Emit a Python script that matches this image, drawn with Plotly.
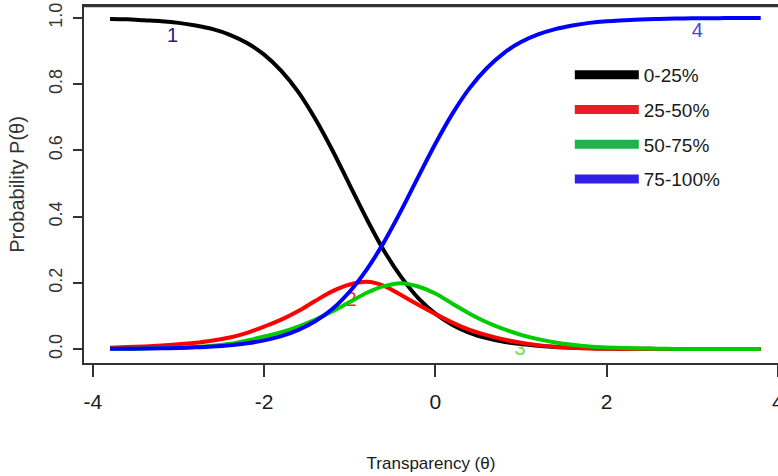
import plotly.graph_objects as go

# ---- data ----
theta = [-3.8, -3.6, -3.4, -3.2, -3.0, -2.8, -2.6, -2.4, -2.2, -2.0,
         -1.8, -1.6, -1.4, -1.2, -1.0, -0.8, -0.6, -0.4, -0.2, 0.0,
         0.2, 0.4, 0.6, 0.8, 1.0, 1.2, 1.4, 1.6, 1.8, 2.0,
         2.2, 2.4, 2.6, 2.8, 3.0, 3.2, 3.4, 3.6, 3.8]

p_0_25 = [0.997, 0.996, 0.993, 0.990, 0.985, 0.977, 0.966, 0.949, 0.924, 0.889,
          0.840, 0.776, 0.694, 0.599, 0.495, 0.392, 0.297, 0.218, 0.154, 0.107,
          0.073, 0.049, 0.033, 0.022, 0.015, 0.010, 0.006, 0.004, 0.003, 0.002,
          0.001, 0.001, 0.0005, 0.0003, 0.0002, 0.0001, 0.0001, 0.0, 0.0]

p_25_50 = [0.004, 0.006, 0.008, 0.011, 0.015, 0.019, 0.026, 0.035, 0.049, 0.068,
           0.089, 0.115, 0.146, 0.175, 0.195, 0.203, 0.191, 0.163, 0.134, 0.106,
           0.080, 0.058, 0.042, 0.029, 0.019, 0.012, 0.007, 0.004, 0.002, 0.001,
           0.0005, 0.0003, 0.0002, 0.0001, 0.0, 0.0, 0.0, 0.0, 0.0]

p_50_75 = [0.001, 0.001, 0.002, 0.003, 0.004, 0.006, 0.010, 0.016, 0.026, 0.038,
           0.051, 0.068, 0.089, 0.114, 0.142, 0.170, 0.190, 0.199, 0.189, 0.168,
           0.137, 0.107, 0.081, 0.060, 0.043, 0.030, 0.020, 0.013, 0.008, 0.005,
           0.003, 0.002, 0.001, 0.0005, 0.0003, 0.0002, 0.0001, 0.0, 0.0]

p_75_100 = [0.0007, 0.001, 0.0015, 0.0023, 0.0035, 0.0052, 0.0078, 0.0118, 0.0176, 0.0263,
            0.039, 0.058, 0.085, 0.122, 0.174, 0.241, 0.323, 0.418, 0.520, 0.620,
            0.711, 0.788, 0.848, 0.894, 0.927, 0.950, 0.966, 0.977, 0.985, 0.990,
            0.993, 0.9955, 0.997, 0.998, 0.9987, 0.9991, 0.9994, 0.9996, 0.9997]

series_names = ["0-25%", "25-50%", "50-75%", "75-100%"]
curve_labels = ["1", "2", "3", "4"]
label_theta = [-3.07, -0.985, 0.99, 3.06]
label_p = [0.943, 0.146, -0.003, 0.956]

x_ticks = [-4, -2, 0, 2, 4]
y_ticks = [0.0, 0.2, 0.4, 0.6, 0.8, 1.0]
y_tick_text = ["0.0", "0.2", "0.4", "0.6", "0.8", "1.0"]

# ---- styling ----
curve_colors = ["#000000", "#ff0000", "#00cc00", "#0000ff"]
legend_colors = ["#000000", "#ed1c24", "#22b14c", "#3020e8"]
label_colors = ["#22227a", "#ff2222", "#77dd44", "#4444dd"]
NARROW = "Liberation Sans Narrow, Arial Narrow, Liberation Sans, Arial, sans-serif"
ARIAL = "Liberation Sans, Arial, sans-serif"
FRAME = "#333333"

fig = go.Figure()

# curve labels drawn first so the curves pass over them
for i in range(4):
    fig.add_trace(go.Scatter(
        x=[label_theta[i]], y=[label_p[i]], mode="text", text=[curve_labels[i]],
        textfont=dict(family=NARROW, size=20, color=label_colors[i]),
        showlegend=False, hoverinfo="skip"))

series = [p_0_25, p_25_50, p_50_75, p_75_100]
for i in range(4):
    fig.add_trace(go.Scatter(
        x=theta, y=series[i], mode="lines", line=dict(color=curve_colors[i], width=4, shape="spline"),
        showlegend=False, name=series_names[i]))

# legend entries
for i in range(4):
    fig.add_trace(go.Scatter(
        x=[None], y=[None], mode="lines", line=dict(color=legend_colors[i], width=9),
        name=series_names[i], legendgroup=series_names[i], showlegend=True))

# top edge of the plot frame
fig.add_shape(type="line", xref="paper", yref="paper", x0=0, x1=1, y0=1, y1=1,
              line=dict(color=FRAME, width=2.5), layer="above")

fig.update_layout(
    width=778, height=476,
    margin=dict(l=84, r=0, t=6, b=113, autoexpand=False),
    paper_bgcolor="white", plot_bgcolor="white",
    showlegend=True,
    legend=dict(x=0.70, y=0.86, xanchor="left", yanchor="top",
                font=dict(family=NARROW, size=19, color="#1a1a1a"),
                itemwidth=64, tracegroupgap=7, bgcolor="rgba(0,0,0,0)",
                borderwidth=0),
    xaxis=dict(range=[-4.104, 4.002], tickvals=x_ticks, ticktext=[str(v) for v in x_ticks],
               showgrid=False, zeroline=False, showline=True, mirror=True,
               linecolor=FRAME, linewidth=1.5, ticks="outside", ticklen=12,
               tickwidth=1.5, tickcolor=FRAME, ticklabelstandoff=7,
               ticklabeloverflow="allow",
               tickfont=dict(family=NARROW, size=21, color="#1a1a1a"),
               title=dict(text="Transparency (θ)", font=dict(family=NARROW, size=17, color="#1a1a1a"),
                          standoff=45),
               automargin=False),
    yaxis=dict(range=[-0.042, 1.036], tickvals=y_ticks, ticktext=y_tick_text,
               showgrid=False, zeroline=False, showline=True, mirror=False,
               linecolor=FRAME, linewidth=1.5, ticks="outside", ticklen=9,
               tickwidth=1.5, tickcolor=FRAME, tickangle=-90, ticklabelstandoff=4,
               tickfont=dict(family=ARIAL, size=18, color="#333333"),
               title=dict(text="Probability P(θ)", font=dict(family=ARIAL, size=20, color="#333333"),
                          standoff=16),
               automargin=False),
)

fig.write_html("out.html", config={"displayModeBar": False},
               post_script="document.body.style.margin='0px';")
